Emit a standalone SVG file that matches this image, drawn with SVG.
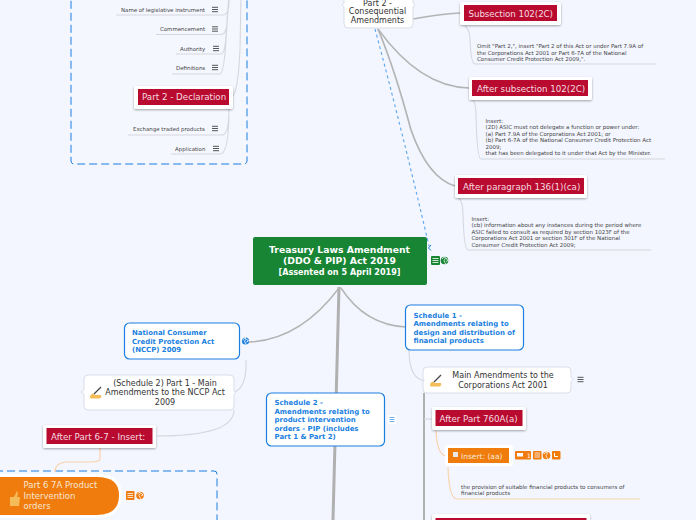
<svg xmlns="http://www.w3.org/2000/svg" width="696" height="520" viewBox="0 0 696 520">
<defs>
<filter id="sh" x="-10%" y="-20%" width="120%" height="150%"><feDropShadow dx="0" dy="1" stdDeviation="0.8" flood-color="#000" flood-opacity="0.35"/></filter>
<g id="menu"><path d="M-3 -2.2H3M-3 0H3M-3 2.2H3" stroke="#444" stroke-width="0.9" fill="none"/></g>
<g id="globe"><circle r="3.6" fill="#1a7fe0"/><path d="M-3 -1Q-1 -3 0 -3.4Q1 -1 -1 0Q-.5 2 1 3.4M1 -2L3 0L1 1" stroke="#fff" stroke-width="0.9" fill="none"/></g>
<g id="hand"><path d="M-6 5Q-6 1 -3 .5L-1 2L5 2Q6 4 4 5.5L-5 5.5Z" fill="#f5bd5a"/><path d="M-2 1L5 -6" stroke="#444" stroke-width="1.2"/></g>
</defs>
<style>
text{font-family:"DejaVu Sans","Verdana",sans-serif}
.c{fill:none;stroke:#b4b4b4;stroke-width:1.4;stroke-linecap:round}
.t{fill:none;stroke:#d6d6de;stroke-width:1.1}
.o{fill:none;stroke:#f8d3ad;stroke-width:1.2}
.w{fill:#fff;filter:url(#sh)}
.r{fill:#b80b2f}
.rt{fill:#f6dbe0;font-size:8.7px}
.s{fill:#444;font-size:5.45px}
.n{fill:#444;font-size:5.5px}
.bl{fill:#fff;stroke:#1a7fe0;stroke-width:1.2}
.bt{fill:#1a7fe0;font-size:6.95px;font-weight:bold}
.g{fill:#fff;stroke:#d8dde8;stroke-width:1}
.gt{fill:#333;font-size:8px;text-anchor:middle}
.ic{fill:#f07c0e}
</style>
<rect width="696" height="520" fill="#f3f6ff"/>
<g id="scope-top"><rect x="71" y="-20" width="176" height="184" rx="3" fill="#f5f7ff" stroke="#1a7fe0" stroke-dasharray="8 4"/></g>
<g id="scope-bottom"><rect x="-20" y="471" width="237" height="80" rx="3" fill="#f5f7ff" stroke="#1a7fe0" stroke-dasharray="8 4"/></g>
<g id="connectors">
<path d="M339 287L333 520" fill="none" stroke="#b0b0b0" stroke-width="3"/>
<path d="M339 288Q300 340 249 342" class="c"/>
<path d="M341 288Q365 325 406 327" class="c"/>
<path d="M413 19Q440 14 460 13" class="c"/>
<path d="M378 29Q420 87 469 88" class="c"/>
<path d="M378 29Q395 70 411 130Q428 178 455 186" fill="none" stroke="#b4b4b4" stroke-width="1.7"/>
<path d="M375 29Q402 130 429 246" fill="none" stroke="#5aa5ee" stroke-width="1.1" stroke-dasharray="3 3"/>
<path d="M431 245L428.500 248L431 250.500" fill="none" stroke="#1a7fe0" stroke-width="1"/>
<path d="M465 26Q470 30 470 40Q471 64 475 64L656 64" class="t"/>
<path d="M473 100Q476 104 476 115Q477 159 481 159L665 159" class="t"/>
<path d="M459 198Q463 202 463 215Q464 250 468 250L651 250" class="t"/>
<path d="M116 15H223Q228 15 229 5L229 -5M156 34.500H221Q227 34 227 20L229 -5M176 54H221Q225 54 226 35L229 -5M172 74H220Q224 73 226 40L229 -5" class="t"/>
<path d="M233 96Q238 90 240 50L241 -5" class="t"/>
<path d="M229 109Q229 135 222 135H128M229 109Q229 154 220 154H171" class="t"/>
<path d="M246 360Q247 388 234 392" class="t"/>
<path d="M234 410Q234 436 157 436" class="t"/>
<path d="M100 448V459Q100 462 90 462H66Q55 463 55 472" class="o"/>
<path d="M409 350Q409 378 424 381" class="t"/>
<path d="M424 393V520" fill="none" stroke="#b0b0b0" stroke-width="2"/>
<path d="M424 419H433" class="t"/>
<path d="M436 431Q437 453 445 456" class="o"/>
<path d="M448 467Q449 499 457 499L640 499" class="o"/>
</g>
<g id="leaf-name"><text class="s" x="121" y="11.500">Name of legislative instrument</text><use href="#menu" x="215" y="9.500"/></g>
<g id="leaf-commencement"><text class="s" x="160" y="31">Commencement</text><use href="#menu" x="215" y="29"/></g>
<g id="leaf-authority"><text class="s" x="180" y="51">Authority</text><use href="#menu" x="216" y="48.500"/></g>
<g id="leaf-definitions"><text class="s" x="176" y="70">Definitions</text><use href="#menu" x="215" y="67.500"/></g>
<g id="part2-declaration"><rect class="w" x="134" y="86" width="99" height="23" rx="2"/><rect class="r" x="138" y="89" width="91" height="16"/><text class="rt" x="142" y="100">Part 2 - Declaration</text></g>
<g id="leaf-etp"><text class="s" x="133" y="131">Exchange traded products</text><use href="#menu" x="215" y="128.500"/></g>
<g id="leaf-application"><text class="s" x="175" y="151">Application</text><use href="#menu" x="216" y="148.500"/></g>
<g id="part2-consequential"><path class="g" d="M348 -12H409Q413 -12 413 -8V3L415 5L413 7V24Q413 28 409 28H348Q344 28 344 24V7L342 5L344 3V-8Q344 -12 348 -12Z"/><text class="gt" x="377.500" y="6.200">Part 2 -</text><text class="gt" x="377.500" y="13.800">Consequential</text><text class="gt" x="377.500" y="23">Amendments</text></g>
<g id="subsection"><rect class="w" x="460" y="2" width="101" height="23" rx="2"/><rect class="r" x="464" y="5" width="93" height="16"/><text class="rt" x="468.500" y="16.500" textLength="84.500">Subsection 102(2C)</text></g>
<g id="subsection-note"><text class="n" x="477" y="48">Omit "Part 2,", insert "Part 2 of this Act or under Part 7.9A of</text><text class="n" x="477" y="54.500">the Corporations Act 2001 or Part 6-7A of the National</text><text class="n" x="477" y="61">Consumer Credit Protection Act 2009,".</text></g>
<g id="after-subsection"><rect class="w" x="469" y="77" width="123" height="23" rx="2"/><rect class="r" x="472" y="80" width="116" height="16"/><text class="rt" x="477" y="92">After subsection 102(2C)</text></g>
<g id="after-subsection-note"><text class="n" x="485.500" y="123">Insert:</text><text class="n" x="485.500" y="129">(2D) ASIC must not delegate a function or power under:</text><text class="n" x="485.500" y="135.500">(a) Part 7.9A of the Corporations Act 2001; or</text><text class="n" x="485.500" y="142">(b) Part 6-7A of the National Consumer Credit Protection Act</text><text class="n" x="485.500" y="148.500">2009;</text><text class="n" x="485.500" y="155">that has been delegated to it under that Act by the Minister.</text></g>
<g id="after-paragraph"><rect class="w" x="455" y="175" width="132" height="23" rx="2"/><rect class="r" x="458" y="178" width="126" height="16"/><text class="rt" x="463" y="190">After paragraph 136(1)(ca)</text></g>
<g id="after-paragraph-note"><text class="n" x="471.500" y="221">Insert:</text><text class="n" x="471.500" y="227">(cb) information about any instances during the period where</text><text class="n" x="471.500" y="233.500">ASIC failed to consult as required by section 1023F of the</text><text class="n" x="471.500" y="240">Corporations Act 2001 or section 301F of the National</text><text class="n" x="471.500" y="247">Consumer Credit Protection Act 2009;</text></g>
<g id="central"><rect x="253" y="237" width="174" height="48" rx="2" fill="#178534"/><g fill="#fff" font-weight="bold" text-anchor="middle"><text x="339.500" y="253" font-size="9.250">Treasury Laws Amendment</text><text x="339.500" y="264" font-size="9.300">(DDO &amp; PIP) Act 2019</text><text x="339.500" y="275" font-size="8.100">[Assented on 5 April 2019]</text></g><rect x="431" y="256" width="9" height="9" rx="1" fill="#178534"/><path d="M432.500 258.500H438.500M432.500 260.500H438.500M432.500 262.500H438.500" stroke="#fff" stroke-width="0.800"/><circle cx="444.500" cy="260.500" r="3.800" fill="#178534"/><path d="M442 259Q444 257 445 256.800Q446 259 444 260.500Q444.300 262.500 446 264M446 258L448 260.500L446 261.500" stroke="#fff" stroke-width="0.800" fill="none"/></g>
<g id="nccp"><rect class="bl" x="124.500" y="323" width="115" height="36" rx="5"/><text class="bt" x="132" y="335">National Consumer</text><text class="bt" x="132" y="344">Credit Protection Act</text><text class="bt" x="132" y="352">(NCCP) 2009</text><use href="#globe" x="245.500" y="341"/></g>
<g id="part1-main"><path class="g" d="M88 375H230Q234 375 234 379V391L236 392L234 394V406Q234 410 230 410H88Q84 410 84 406V394L81 392L84 390V379Q84 375 88 375Z"/><use href="#hand" x="96" y="393"/><text class="gt" x="165" y="386">(Schedule 2) Part 1 - Main</text><text class="gt" x="165" y="395">Amendments to the NCCP Act</text><text class="gt" x="165" y="405">2009</text></g>
<g id="after-part67"><rect class="w" x="43" y="425" width="113" height="23" rx="2"/><rect class="r" x="46.500" y="428" width="106" height="16"/><text class="rt" x="51" y="439.500">After Part 6-7 - Insert:</text></g>
<g id="part67a"><path d="M-10 474H97Q122 474 122 495Q122 518 97 518H-10Z" fill="#fff"/><path d="M-10 477H97Q119 477 119 495Q119 515 97 515H-10Z" fill="#f07c0e"/><path d="M10 497H14V506H10ZM14 497L17 491L18 493L17 497H20L19 506H14Z" fill="#f5bd5a"/><g fill="#f8e6d2" font-size="8.500"><text x="23.500" y="488">Part 6 7A Product</text><text x="23.500" y="499">Intervention</text><text x="23.500" y="509">orders</text></g><rect class="ic" x="126" y="491" width="8.500" height="9" rx="1"/><path d="M127.500 493.500H133M127.500 495.500H133M127.500 497.500H133" stroke="#fff" stroke-width="0.800"/><circle cx="140" cy="495.500" r="3.800" class="ic"/><path d="M137.500 494Q139 492.500 140 492Q141 494 139 495.500Q139.500 497 141 499M141 493L143 495L141 496" stroke="#fff" stroke-width="0.800" fill="none"/></g>
<g id="schedule1"><rect class="bl" x="405.500" y="305" width="118" height="45" rx="5"/><text class="bt" x="413.500" y="318">Schedule 1 -</text><text class="bt" x="413.500" y="326.300">Amendments relating to</text><text class="bt" x="413.500" y="335">design and distribution of</text><text class="bt" x="413.500" y="343">financial products</text></g>
<g id="schedule2"><rect class="bl" x="266.500" y="393" width="118" height="53" rx="5"/><text class="bt" x="274.500" y="404.700">Schedule 2 -</text><text class="bt" x="274.500" y="414.300">Amendments relating to</text><text class="bt" x="274.500" y="422.300">product intervention</text><text class="bt" x="274.500" y="430.700">orders - PIP (includes</text><text class="bt" x="274.500" y="439.300">Part 1 &amp; Part 2)</text><rect x="388" y="415" width="8" height="9" fill="#fff"/><path d="M389.500 417.500H394.500M389.500 419.500H394.500M389.500 421.500H394.500" stroke="#4a9ae8" stroke-width="0.800"/></g>
<g id="main-amendments"><path class="g" d="M427 367H567Q571 367 571 371V377L573 379.500L571 382V389Q571 393 567 393H427Q423 393 423 389V382L424 380L423 378V371Q423 367 427 367Z"/><use href="#hand" x="436" y="381"/><text class="gt" x="503" y="378">Main Amendments to the</text><text class="gt" x="503" y="388">Corporations Act 2001</text><use href="#menu" x="580.500" y="379.500"/></g>
<g id="after-760a"><rect class="w" x="432" y="407" width="94" height="23" rx="2"/><rect class="r" x="435.500" y="410" width="87" height="16"/><text class="rt" x="439.500" y="422">After Part 760A(a)</text></g>
<g id="insert-aa"><rect x="445" y="445" width="68" height="21" rx="2" fill="#fff"/><rect x="448" y="448" width="61" height="15" fill="#f07c0e"/><rect x="453" y="452" width="5" height="5" fill="#e8e8e8"/><text x="461" y="459" font-size="7.500" fill="#f8e6d2">Insert: (aa)</text><rect class="ic" x="515" y="451" width="16" height="8.500" rx="1"/><rect x="517" y="453" width="6" height="3.500" fill="#fff"/><text x="527" y="458" font-size="6" fill="#fff">1</text><rect class="ic" x="533" y="451" width="8.500" height="8.500" rx="1"/><path d="M534.500 453H540M534.500 455H540M534.500 457H540" stroke="#fff" stroke-width="0.800"/><circle cx="546.500" cy="455.500" r="3.800" class="ic"/><path d="M544 454Q546 452 547 452Q548 454 546 455.500Q546 457 548 459" stroke="#fff" stroke-width="0.800" fill="none"/><rect class="ic" x="552" y="451" width="8.500" height="8.500" rx="1"/><path d="M554.500 453V456.500H558" stroke="#fff" stroke-width="1" fill="none"/></g>
<g id="insert-aa-note"><text class="n" x="461" y="489">the provision of suitable financial products to consumers of</text><text class="n" x="461" y="495">financial products</text></g>
<g id="next-red"><rect class="w" x="432" y="514" width="158" height="23" rx="2"/><rect class="r" x="435.500" y="518" width="151" height="16"/></g>
</svg>
